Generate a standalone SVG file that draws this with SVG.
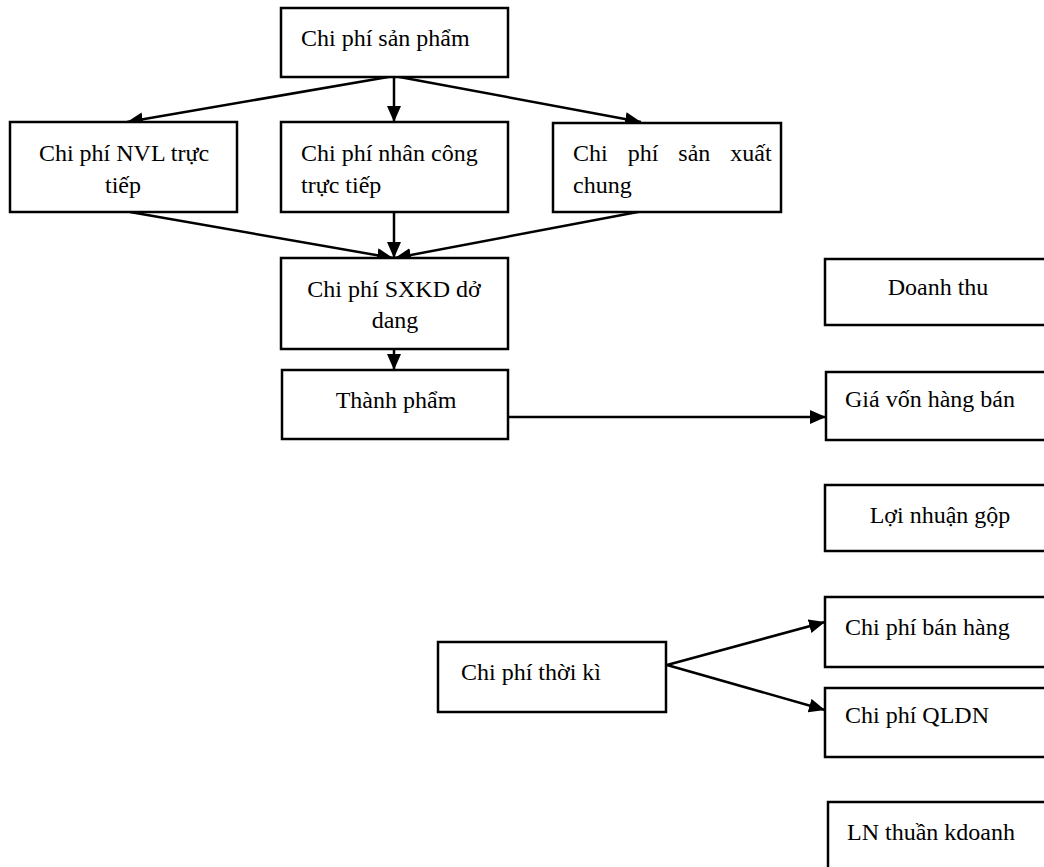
<svg xmlns="http://www.w3.org/2000/svg" width="1044" height="867" viewBox="0 0 1044 867">
<defs>
<marker id="ah" viewBox="0 0 16 14" refX="16" refY="7" markerWidth="16" markerHeight="14" markerUnits="userSpaceOnUse" orient="auto">
<path d="M0,0 L16,7 L0,14 z" fill="#000"/>
</marker>
<style>
.box{fill:#fff;stroke:#000;stroke-width:2.5}
.t{font-family:"Liberation Serif","Times New Roman",serif;font-size:24px;fill:#000}
.c{text-anchor:middle}
.ar{stroke:#000;stroke-width:2.5;fill:none;marker-end:url(#ah)}
</style>
</defs>
<rect width="1044" height="867" fill="#fff"/>
<g id="connectors">
<line class="ar" x1="394" y1="76" x2="127" y2="122"/>
<line class="ar" x1="394" y1="76" x2="394" y2="122"/>
<line class="ar" x1="394" y1="76" x2="641" y2="122"/>
<line class="ar" x1="130" y1="212" x2="393" y2="258"/>
<line class="ar" x1="394" y1="212" x2="394" y2="258"/>
<line class="ar" x1="643" y1="211" x2="395" y2="258"/>
<line class="ar" x1="394" y1="349" x2="394" y2="370"/>
<line class="ar" x1="508" y1="417" x2="826" y2="417"/>
<line class="ar" x1="667" y1="665" x2="825" y2="622"/>
<line class="ar" x1="667" y1="665" x2="825" y2="710"/>
</g>
<g id="n-chiphisanpham"><rect class="box" x="281" y="8" width="227" height="69"/><text class="t" x="301" y="46">Chi phí sản phẩm</text></g>
<g id="n-nvl"><rect class="box" x="10" y="122" width="227" height="90"/><text class="t c" x="124" y="161">Chi phí NVL trực</text><text class="t c" x="123" y="193">tiếp</text></g>
<g id="n-nhancong"><rect class="box" x="281" y="122" width="227" height="90"/><text class="t" x="301" y="161">Chi phí nhân công</text><text class="t" x="301" y="193">trực tiếp</text></g>
<g id="n-sxc"><rect class="box" x="553" y="123" width="228" height="89"/><text class="t" x="573" y="161" word-spacing="14">Chi phí sản xuất</text><text class="t" x="573" y="193">chung</text></g>
<g id="n-sxkd"><rect class="box" x="281" y="258" width="227" height="91"/><text class="t c" x="394" y="297">Chi phí SXKD dở</text><text class="t c" x="395" y="328">dang</text></g>
<g id="n-thanhpham"><rect class="box" x="282" y="370" width="226" height="69"/><text class="t c" x="396" y="408">Thành phẩm</text></g>
<g id="n-doanhthu"><rect class="box" x="825" y="259" width="228" height="66"/><text class="t c" x="938" y="295">Doanh thu</text></g>
<g id="n-giavon"><rect class="box" x="826" y="372" width="228" height="68"/><text class="t" x="845" y="407">Giá vốn hàng bán</text></g>
<g id="n-loinhuangop"><rect class="box" x="825" y="485" width="228" height="66"/><text class="t c" x="940" y="523">Lợi nhuận gộp</text></g>
<g id="n-thoiki"><rect class="box" x="438" y="642" width="228" height="70"/><text class="t" x="461" y="680">Chi phí thời kì</text></g>
<g id="n-banhang"><rect class="box" x="825" y="597" width="228" height="70"/><text class="t" x="845" y="635">Chi phí bán hàng</text></g>
<g id="n-qldn"><rect class="box" x="825" y="688" width="228" height="69"/><text class="t" x="845" y="723">Chi phí QLDN</text></g>
<g id="n-lnthuan"><rect class="box" x="828" y="802" width="228" height="80"/><text class="t" x="847" y="840">LN thuần kdoanh</text></g>
</svg>
